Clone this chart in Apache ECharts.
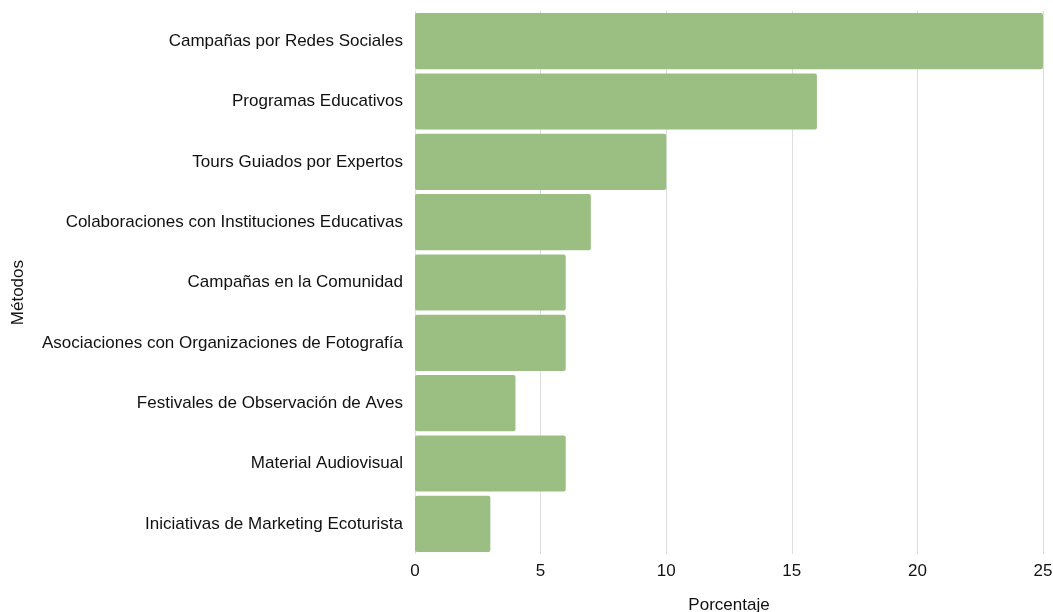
<!DOCTYPE html>
<html>
<head>
<meta charset="utf-8">
<script src="https://cdn.jsdelivr.net/npm/echarts@6/dist/echarts.min.js"></script>
<style>html,body{margin:0;padding:0;background:#fff;}#chart{width:1053px;height:612px;}</style>
</head>
<body>
<div id="chart"></div>
<script>
const categories = [
  "Campañas por Redes Sociales",
  "Programas Educativos",
  "Tours Guiados por Expertos",
  "Colaboraciones con Instituciones Educativas",
  "Campañas en la Comunidad",
  "Asociaciones con Organizaciones de Fotografía",
  "Festivales de Observación de Aves",
  "Material Audiovisual",
  "Iniciativas de Marketing Ecoturista"
];
const values = [25, 16, 10, 7, 6, 6, 4, 6, 3];
const xTicks = [0, 5, 10, 15, 20, 25];
const xTitle = 'Porcentaje';
const yTitle = 'Métodos';

const chart = echarts.init(document.getElementById('chart'), null, {renderer: 'canvas'});
const font = '"Liberation Sans", Arial, sans-serif';
const txt = '#111111';
chart.setOption({
  animation: false,
  grid: {left: 415, right: 10, top: 11, bottom: 58, containLabel: false, outerBoundsMode: 'none'},
  graphic: [{
    type: 'text', left: 10, top: 260, rotation: Math.PI / 2,
    style: {text: yTitle, font: '17px ' + font, fill: txt}
  }],
  xAxis: {
    type: 'value', min: xTicks[0], max: xTicks[xTicks.length - 1], interval: 5,
    name: xTitle, nameLocation: 'middle', nameGap: 43,
    nameTextStyle: {fontFamily: font, fontSize: 17, color: txt},
    axisLine: {show: false}, axisTick: {show: false},
    axisLabel: {fontFamily: font, fontSize: 17, color: txt, margin: 9},
    splitLine: {show: true, lineStyle: {color: '#dddddd', width: 1}}
  },
  yAxis: {
    type: 'category', data: categories, inverse: true,
    axisLine: {show: false}, axisTick: {show: false},
    axisLabel: {fontFamily: font, fontSize: 17, color: txt, margin: 12}
  },
  series: [{
    type: 'bar', data: values, barCategoryGap: '7%',
    itemStyle: {color: '#9bbf83', borderRadius: 2}
  }]
});
</script>
</body>
</html>
